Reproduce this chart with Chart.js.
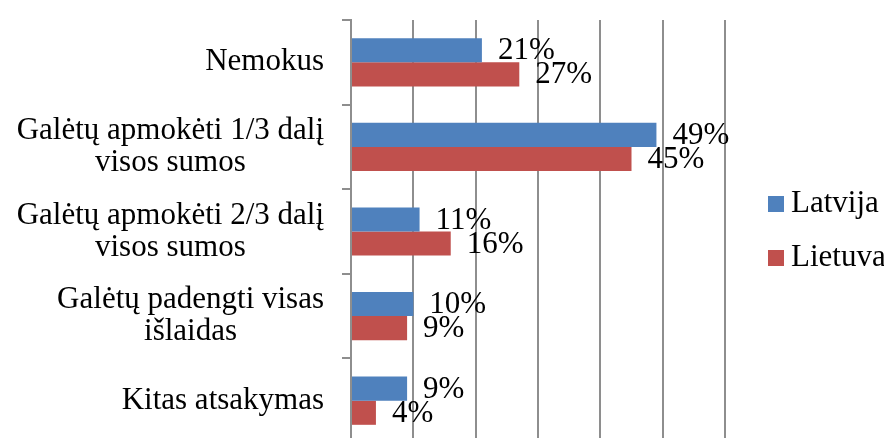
<!DOCTYPE html>
<html>
<head>
<meta charset="utf-8">
<script src="https://cdn.jsdelivr.net/npm/chart.js@4"></script>
<style>
  html, body { margin: 0; padding: 0; background: #fff; overflow: hidden; }
  #wrap { width: 884px; height: 443px; position: relative; }
</style>
</head>
<body>
<div id="wrap"><canvas id="chart"></canvas></div>
<script>
// =============================
// DATA
// =============================

const categories = [
    ["Nemokus"],
    ["Galėtų apmokėti 1/3 dalį", "visos sumos"],
    ["Galėtų apmokėti 2/3 dalį", "visos sumos"],
    ["Galėtų padengti visas", "išlaidas"],
    ["Kitas atsakymas"]
];

const latvija = [21, 49, 11, 10, 9];
const lietuva = [27, 45, 16, 9, 4];

const seriesNames = ["Latvija", "Lietuva"];
const seriesColors = ["#4f81bd", "#c0504d"];

const FONT = "31px 'Liberation Serif', 'DejaVu Serif', serif";


// =============================
// LABELS PLUGIN (category names, values, legend)
// =============================

const textPlugin = {
    id: "textPlugin",
    afterDraw(chart) {
        const ctx = chart.ctx;
        const y = chart.scales.y;

        ctx.save();
        ctx.font = FONT;
        ctx.fillStyle = "#000";
        ctx.textBaseline = "middle";

        // category labels, each block centred, right edge near the axis
        const rightEdge = 324;
        const lineH = 32;
        categories.forEach((lines, i) => {
            const cy = y.getPixelForValue(i);
            const w = Math.max(...lines.map(l => ctx.measureText(l).width));
            const cx = rightEdge - w / 2;
            ctx.textAlign = "center";
            lines.forEach((line, k) => {
                const ly = cy + (k - (lines.length - 1) / 2) * lineH;
                ctx.fillText(line, cx, ly);
            });
        });

        // value labels
        ctx.textAlign = "left";
        chart.data.datasets.forEach((ds, di) => {
            const meta = chart.getDatasetMeta(di);
            meta.data.forEach((bar, i) => {
                ctx.fillText(ds.data[i] + "%", bar.x + 16, bar.y + 1);
            });
        });

        // legend
        const lx = 768;
        const ly0 = 204;
        seriesNames.forEach((name, i) => {
            const ly = ly0 + i * 54;
            ctx.fillStyle = seriesColors[i];
            ctx.fillRect(lx, ly - 8, 16, 16);
            ctx.fillStyle = "#000";
            ctx.fillText(name, lx + 23, ly);
        });

        ctx.restore();
    }
};


// =============================
// CHART
// =============================

new Chart(document.getElementById("chart"), {
    type: "bar",
    data: {
        labels: categories,
        datasets: [
            {
                label: seriesNames[0],
                data: latvija,
                backgroundColor: seriesColors[0],
                categoryPercentage: 0.57,
                barPercentage: 1
            },
            {
                label: seriesNames[1],
                data: lietuva,
                backgroundColor: seriesColors[1],
                categoryPercentage: 0.57,
                barPercentage: 1
            }
        ]
    },
    options: {
        indexAxis: "y",
        responsive: true,
        maintainAspectRatio: false,
        animation: false,
        layout: {
            padding: { top: 20, right: 159, bottom: 0, left: 0 }
        },
        plugins: {
            legend: { display: false },
            tooltip: { enabled: false }
        },
        scales: {
            x: {
                min: 0,
                max: 60,
                ticks: { display: false, stepSize: 10 },
                grid: {
                    color: "#8e8e8e",
                    lineWidth: 2,
                    drawTicks: false
                },
                border: { display: false }
            },
            y: {
                ticks: { display: false },
                grid: {
                    offset: true,
                    drawOnChartArea: false,
                    drawTicks: true,
                    tickLength: 9,
                    color: "#8e8e8e",
                    lineWidth: 2
                },
                border: { color: "#8e8e8e", width: 2 },
                afterFit(scale) {
                    scale.width = 351;
                }
            }
        }
    },
    plugins: [textPlugin]
});
</script>
</body>
</html>
